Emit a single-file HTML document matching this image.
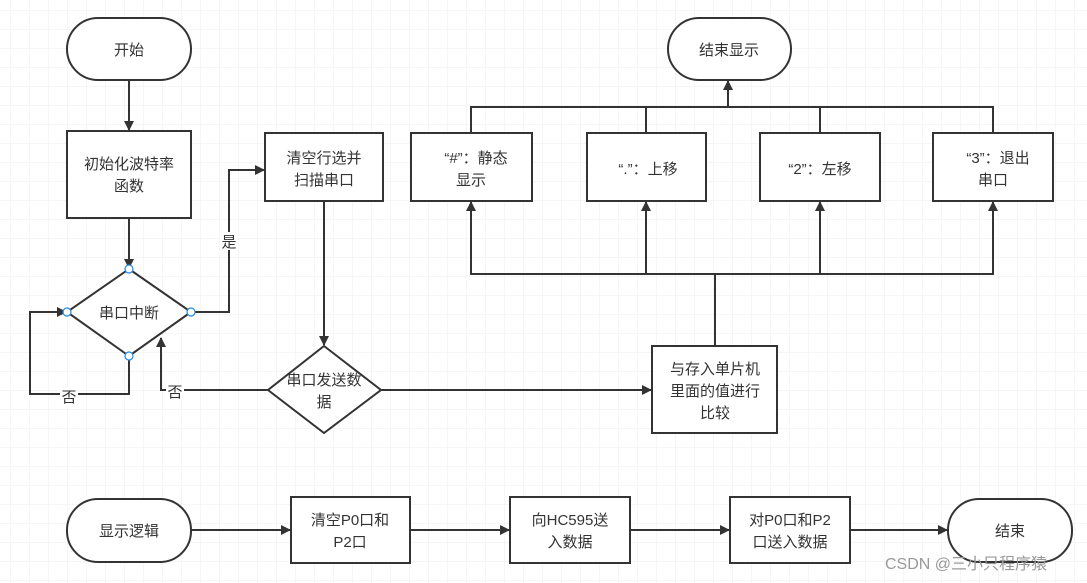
<!DOCTYPE html>
<html><head><meta charset="utf-8"><style>
html,body{margin:0;padding:0;background:#fff}
svg{display:block}
text{font-family:"Liberation Sans","Noto Sans CJK SC",sans-serif;font-size:15px;fill:#333;text-anchor:middle}
</style></head><body>
<svg width="1087" height="583" viewBox="0 0 1087 583" xmlns="http://www.w3.org/2000/svg">
<defs>
<pattern id="g" width="19" height="19" patternUnits="userSpaceOnUse" x="11" y="11">
<path d="M19 0V19M0 19H19" fill="none" stroke="#ececec" stroke-width="1"/>
</pattern>
<marker id="a" markerWidth="10" markerHeight="10" refX="9" refY="5" orient="auto" markerUnits="userSpaceOnUse">
<path d="M0 0L10 5L0 10z" fill="#333"/>
</marker>
</defs>
<rect width="1087" height="583" fill="url(#g)"/>
<g fill="#fff" stroke="#333" stroke-width="2">
<rect x="67" y="18" width="124" height="62" rx="31"/>
<rect x="67" y="131" width="124" height="87"/>
<path d="M129 269L191 312L129 356L67 312z"/>
<rect x="265" y="133" width="118" height="68"/>
<path d="M324 346L381 390L324 433L268 390z"/>
<rect x="652" y="346" width="125" height="87"/>
<rect x="411" y="133" width="121" height="68"/>
<rect x="587" y="133" width="119" height="68"/>
<rect x="760" y="133" width="120" height="68"/>
<rect x="933" y="133" width="120" height="68"/>
<rect x="668" y="18" width="123" height="62" rx="31"/>
<rect x="67" y="499" width="124" height="63" rx="31"/>
<rect x="291" y="497" width="119" height="66"/>
<rect x="510" y="497" width="120" height="66"/>
<rect x="730" y="497" width="120" height="66"/>
<rect x="948" y="499" width="124" height="63" rx="31"/>
</g>
<g fill="none" stroke="#333" stroke-width="2">
<path d="M129 80V130" marker-end="url(#a)"/>
<path d="M129 218V268" marker-end="url(#a)"/>
<path d="M191 312H229V170H264" marker-end="url(#a)"/>
<path d="M324 201V345" marker-end="url(#a)"/>
<path d="M268 390H161V338" marker-end="url(#a)"/>
<path d="M129 356V394H30V312H66" marker-end="url(#a)"/>
<path d="M381 390H651" marker-end="url(#a)"/>
<path d="M715 346V274M470 274H994"/>
<path d="M471 274V202" marker-end="url(#a)"/>
<path d="M646 274V202" marker-end="url(#a)"/>
<path d="M820 274V202" marker-end="url(#a)"/>
<path d="M993 274V202" marker-end="url(#a)"/>
<path d="M471 133V107H993V133M646 107V133M820 107V133"/>
<path d="M728 107V81" marker-end="url(#a)"/>
<path d="M191 530H290" marker-end="url(#a)"/>
<path d="M410 530H509" marker-end="url(#a)"/>
<path d="M630 530H729" marker-end="url(#a)"/>
<path d="M850 530H947" marker-end="url(#a)"/>
</g>
<g fill="#fff" stroke="#1e88e5" stroke-width="1.2">
<circle cx="129" cy="269" r="4"/><circle cx="191" cy="312" r="4"/><circle cx="129" cy="356" r="4"/><circle cx="67" cy="312" r="4"/>
</g>
<rect x="220" y="232" width="18" height="18" fill="#fff"/>
<rect x="60" y="387" width="18" height="18" fill="#fff"/>
<rect x="166" y="382" width="18" height="18" fill="#fff"/>
<text x="129" y="55">开始</text>
<text x="129" y="169">初始化波特率</text><text x="129" y="191">函数</text>
<text x="129" y="318">串口中断</text>
<text x="324" y="163">清空行选并</text><text x="324" y="185">扫描串口</text>
<text x="229" y="247">是</text>
<text x="69" y="402">否</text>
<text x="175" y="397">否</text>
<text x="324" y="385">串口发送数</text><text x="324" y="407">据</text>
<text x="715" y="374">与存入单片机</text><text x="715" y="396">里面的值进行</text><text x="715" y="418">比较</text>
<text x="476" y="163">“#”：静态</text><text x="471" y="185">显示</text>
<text x="648" y="174">“.”：上移</text>
<text x="820" y="174">“2”：左移</text>
<text x="998" y="163">“3”：退出</text><text x="993" y="185">串口</text>
<text x="729" y="55">结束显示</text>
<text x="129" y="536">显示逻辑</text>
<text x="350" y="525">清空P0口和</text><text x="350" y="547">P2口</text>
<text x="570" y="525">向HC595送</text><text x="570" y="547">入数据</text>
<text x="790" y="525">对P0口和P2</text><text x="790" y="547">口送入数据</text>
<text x="1010" y="536">结束</text>
<text x="966" y="569" style="font-size:16px;fill:#999">CSDN @三小只程序猿</text>
</svg>
</body></html>
